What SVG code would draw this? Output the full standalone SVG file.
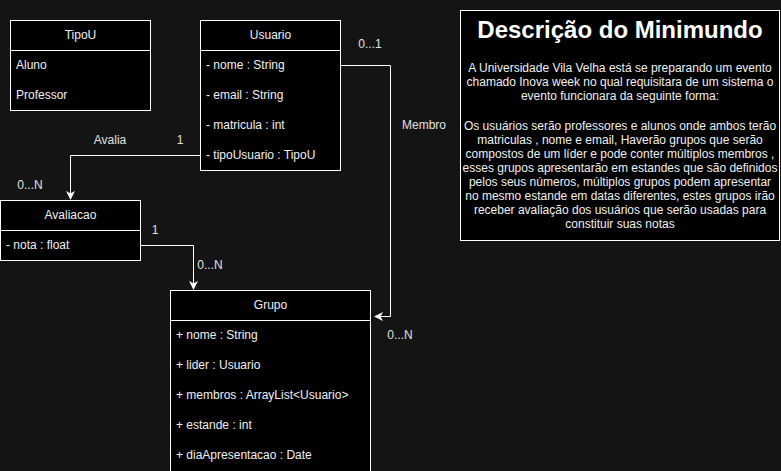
<svg xmlns="http://www.w3.org/2000/svg" width="781" height="471" viewBox="0 0 781 471">
<style>
text{font-family:"Liberation Sans",Arial,sans-serif;font-size:12px;fill:#f0f0f0}
.box{fill:#000;stroke:#fff;stroke-width:1}
.hd{text-anchor:middle}
.ln{fill:none;stroke:#fff;stroke-width:1}
.c{text-anchor:middle}
.lbl{fill:#e0e0e0}
</style>
<defs>
<marker id="arr" viewBox="0 0 10 10" refX="9" refY="5" markerWidth="9" markerHeight="9" markerUnits="userSpaceOnUse" orient="auto">
<path d="M0,0 L10,5 L0,10 L3,5 Z" fill="#fff"/>
</marker>
</defs>
<rect width="781" height="471" fill="#141414"/>
<g id="connectors">
<path class="ln" d="M200.5,155.5 H70.5 V199" marker-end="url(#arr)"/>
<path class="ln" d="M140.5,245.5 H193.5 V289" marker-end="url(#arr)"/>
<path class="ln" d="M340.5,65.5 H390.5 V316.5 H375" marker-end="url(#arr)"/>
<text x="110" y="144" class="c lbl">Avalia</text>
<text x="180" y="144" class="c lbl">1</text>
<text x="30" y="189" class="c lbl">0...N</text>
<text x="155" y="234" class="c lbl">1</text>
<text x="210" y="269" class="c lbl">0...N</text>
<text x="370" y="48" class="c lbl">0...1</text>
<text x="424" y="129" class="c lbl">Membro</text>
<text x="400" y="339" class="c lbl">0...N</text>
</g>
<g id="TipoU">
<rect class="box" x="10.5" y="20.5" width="140" height="90"/>
<line class="ln" x1="10.5" y1="50.5" x2="150.5" y2="50.5"/>
<text x="80.5" y="39" class="hd">TipoU</text>
<text x="16" y="69">Aluno</text>
<text x="16" y="99">Professor</text>
</g>
<g id="Usuario">
<rect class="box" x="200.5" y="20.5" width="140" height="150"/>
<line class="ln" x1="200.5" y1="50.5" x2="340.5" y2="50.5"/>
<text x="270.5" y="39" class="hd">Usuario</text>
<text x="206" y="69">- nome : String</text>
<text x="206" y="99">- email : String</text>
<text x="206" y="129">- matricula : int</text>
<text x="206" y="159">- tipoUsuario : TipoU</text>
</g>
<g id="Avaliacao">
<rect class="box" x="0.5" y="200.5" width="140" height="60"/>
<line class="ln" x1="0.5" y1="230.5" x2="140.5" y2="230.5"/>
<text x="70.5" y="219" class="hd">Avaliacao</text>
<text x="6" y="249">- nota : float</text>
</g>
<g id="Grupo">
<rect class="box" x="170.5" y="290.5" width="200" height="181"/>
<line class="ln" x1="170.5" y1="320.5" x2="370.5" y2="320.5"/>
<text x="270.5" y="309" class="hd">Grupo</text>
<text x="176" y="339">+ nome : String</text>
<text x="176" y="369">+ lider : Usuario</text>
<text x="176" y="399">+ membros : ArrayList&lt;Usuario&gt;</text>
<text x="176" y="429">+ estande : int</text>
<text x="176" y="459">+ diaApresentacao : Date</text>
</g>
<g id="Descricao">
<rect class="box" x="460.5" y="10.5" width="319" height="230"/>
<text x="620" y="38" class="c" style="font-size:24px;font-weight:bold;fill:#fff">Descrição do Minimundo</text>
<text x="620" y="72" class="c">A Universidade Vila Velha está se preparando um evento</text>
<text x="620" y="86" class="c">chamado Inova week no qual requisitara de um sistema o</text>
<text x="620" y="100" class="c">evento funcionara da seguinte forma:</text>
<text x="620" y="130" class="c">Os usuários serão professores e alunos onde ambos terão</text>
<text x="620" y="144" class="c">matriculas , nome e email, Haverão grupos que serão</text>
<text x="620" y="158" class="c">compostos de um líder e pode conter múltiplos membros ,</text>
<text x="620" y="172" class="c">esses grupos apresentarão em estandes que são definidos</text>
<text x="620" y="186" class="c">pelos seus números, múltiplos grupos podem apresentar</text>
<text x="620" y="200" class="c">no mesmo estande em datas diferentes, estes grupos irão</text>
<text x="620" y="214" class="c">receber avaliação dos usuários que serão usadas para</text>
<text x="620" y="228" class="c">constituir suas notas</text>
</g>
</svg>
